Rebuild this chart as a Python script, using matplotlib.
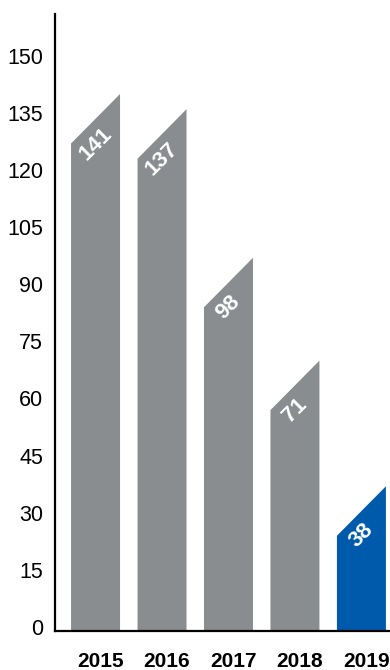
import matplotlib
matplotlib.use("Agg")
import matplotlib.pyplot as plt
from matplotlib.transforms import ScaledTranslation

years = ["2015", "2016", "2017", "2018", "2019"]
values = [141, 137, 98, 71, 38]
colors = ["#898d8f", "#898d8f", "#898d8f", "#898d8f", "#005aab"]
yticks = [0, 15, 30, 45, 60, 75, 90, 105, 120, 135, 150]

plt.rcParams['font.family'] = ['Liberation Sans', 'DejaVu Sans']

fig = plt.figure(figsize=(3.9, 6.7), dpi=100)
ax = fig.add_axes([55/390, 39/670, 335/390, 617/670])

bar_w = 0.737
slant = 13
for i, (v, c) in enumerate(zip(values, colors)):
    xs = [i - bar_w/2, i + bar_w/2, i + bar_w/2, i - bar_w/2]
    ys = [0, 0, v, v - slant]
    ax.fill(xs, ys, color=c, lw=0)
    ax.text(i, v - slant, str(v), rotation=45, ha='center', va='center',
            color='white', fontsize=16, fontweight='bold')

ax.set_xlim(-0.61, 4.43)
ax.set_ylim(0, 162)

for s in ['top', 'right']:
    ax.spines[s].set_visible(False)
for s in ['left', 'bottom']:
    ax.spines[s].set_linewidth(1.6)
    ax.spines[s].set_color('black')

ax.set_yticks(yticks)
ax.set_yticklabels([str(t) for t in yticks], fontsize=15.5)
ax.tick_params(axis='y', length=0, pad=8.5)
for lab in ax.get_yticklabels():
    lab.set_transform(lab.get_transform() + ScaledTranslation(0, 4/100, fig.dpi_scale_trans))

ax.set_xticks(range(len(years)))
ax.set_xticklabels(years, fontsize=15, fontweight='bold')
ax.tick_params(axis='x', length=0, pad=15)
for lab in ax.get_xticklabels():
    lab.set_transform(lab.get_transform() + ScaledTranslation(5/100, 0, fig.dpi_scale_trans))

fig.savefig("out.png", dpi=100)
